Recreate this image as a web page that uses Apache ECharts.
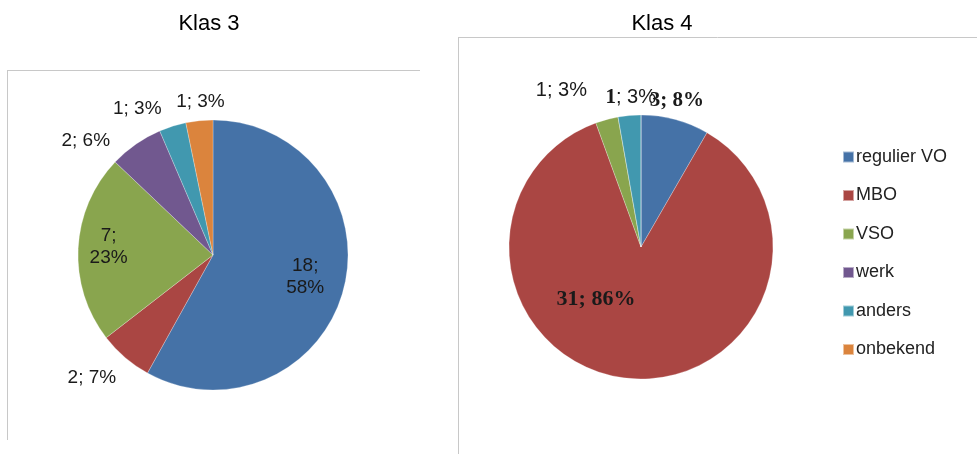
<!DOCTYPE html>
<html><head><meta charset="utf-8">
<script src="https://cdn.jsdelivr.net/npm/echarts@6/dist/echarts.min.js"></script>
<style>html,body{margin:0;padding:0;background:#fff}#c{width:977px;height:454px}</style>
</head><body><div id="c"></div>
<script>
const categories = ['regulier VO', 'MBO', 'VSO', 'werk', 'anders', 'onbekend'];
const klas3Values = [18, 2, 7, 2, 1, 1];
const klas3Pct = [58, 7, 23, 6, 3, 3];
const klas4Values = [3, 31, 1, 0, 1, 0];
const klas4Pct = [8, 86, 3, 0, 3, 0];
const titles = ['Klas 3', 'Klas 4'];
const colors = ['#4572A7', '#AA4643', '#89A54E', '#71588F', '#4198AF', '#DB843D'];

// label placement nudges (style only), per series then per category
const labelNudge = [
  [[24, 4], [0, 16], [-34, -5], [4, -22], [29, -30], [31, -13]],
  [[-32, -13], [-39, -16], [23, -42], [0, 0], [32, -12], [0, 0]]
];

const sans = '"Liberation Sans", Arial, sans-serif';
const serif = '"Liberation Serif", "Times New Roman", serif';

const chart = echarts.init(document.getElementById('c'), null, {renderer: 'canvas'});

function klas3Data() {
  return categories.map((name, i) => {
    const inside = klas3Pct[i] > 15;
    return {
      name, value: klas3Values[i],
      label: {
        position: inside ? 'inside' : 'outside',
        formatter: inside ? (klas3Values[i] + ';\n' + klas3Pct[i] + '%') : (klas3Values[i] + '; ' + klas3Pct[i] + '%'),
        lineHeight: 22
      }
    };
  });
}
function klas4Data() {
  return categories.map((name, i) => {
    const v = klas4Values[i];
    const inside = klas4Pct[i] > 15;
    let lab = {position: inside ? 'inside' : 'outside', show: v > 0};
    if (name === 'MBO') {
      lab.formatter = v + '; ' + klas4Pct[i] + '%';
      lab.fontFamily = serif; lab.fontWeight = 'bold'; lab.fontSize = 22;
    } else if (name === 'regulier VO') {
      lab.formatter = v + '; ' + klas4Pct[i] + '%';
      lab.fontFamily = serif; lab.fontWeight = 'bold'; lab.fontSize = 21;
    } else if (name === 'anders') {
      lab.formatter = '{b|' + v + '}{n|; ' + klas4Pct[i] + '%}';
      lab.rich = {
        b: {fontFamily: serif, fontWeight: 'bold', fontSize: 21, color: '#1a1a1a'},
        n: {fontFamily: sans, fontSize: 20, color: '#1a1a1a'}
      };
    } else {
      lab.formatter = v + '; ' + klas4Pct[i] + '%';
    }
    return {name, value: v, label: lab};
  });
}

function nudge(params) {
  const n = labelNudge[params.seriesIndex][params.dataIndex];
  return {dx: n[0], dy: n[1]};
}

const option = {
  animation: false,
  color: colors,
  title: [
    {text: titles[0], left: 204, top: 8, textAlign: 'center',
     textStyle: {fontFamily: sans, fontSize: 22, fontWeight: 'normal', color: '#000'}},
    {text: titles[1], left: 657, top: 8, textAlign: 'center',
     textStyle: {fontFamily: sans, fontSize: 22, fontWeight: 'normal', color: '#000'}}
  ],
  legend: {
    orient: 'vertical', left: 837, top: 143,
    itemWidth: 11, itemHeight: 11, itemGap: 20.5,
    icon: 'rect',
    data: categories,
    textStyle: {fontFamily: sans, fontSize: 18, color: '#222', padding: [0, 0, 0, -3]}
  },
  graphic: [
    {type: 'line', shape: {x1: 7, y1: 70.5, x2: 420, y2: 70.5}, style: {stroke: '#c8c8c8', lineWidth: 1}},
    {type: 'line', shape: {x1: 7.5, y1: 70, x2: 7.5, y2: 440}, style: {stroke: '#c8c8c8', lineWidth: 1}},
    {type: 'line', shape: {x1: 458, y1: 37.5, x2: 977, y2: 37.5}, style: {stroke: '#c8c8c8', lineWidth: 1}},
    {type: 'line', shape: {x1: 458.5, y1: 37, x2: 458.5, y2: 454}, style: {stroke: '#c8c8c8', lineWidth: 1}}
  ],
  series: [
    {
      type: 'pie', name: titles[0], center: [213, 255], radius: 135,
      startAngle: 90, clockwise: true,
      label: {fontFamily: sans, fontSize: 19, color: '#1a1a1a'},
      labelLine: {show: false, length: 6, length2: 0},
      labelLayout: nudge,
      itemStyle: {borderColor: 'rgba(255,255,255,0.5)', borderWidth: 0.5},
      emphasis: {scale: false},
      data: klas3Data()
    },
    {
      type: 'pie', name: titles[1], center: [641, 247], radius: 132,
      startAngle: 90, clockwise: true,
      label: {fontFamily: sans, fontSize: 20, color: '#1a1a1a'},
      labelLine: {show: false, length: 6, length2: 0},
      labelLayout: nudge,
      itemStyle: {borderColor: 'rgba(255,255,255,0.5)', borderWidth: 0.5},
      emphasis: {scale: false},
      data: klas4Data()
    }
  ]
};
chart.setOption(option);
</script></body></html>
